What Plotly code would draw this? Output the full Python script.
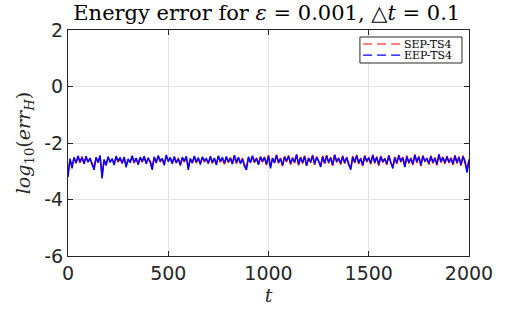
import plotly.graph_objects as go

t = list(range(0, 2001, 10))

eep_ts4 = [
    -3.20, -2.55, -2.90, -2.50, -2.72, -2.45, -2.66, -2.52, -2.74, -2.47,
    -2.68, -2.53, -2.76, -2.95, -2.50, -2.70, -2.44, -3.25, -2.58, -2.80,
    -2.48, -2.69, -2.55, -2.78, -2.46, -2.64, -2.51, -2.73, -2.49, -2.86,
    -2.56, -2.70, -2.45, -2.67, -2.53, -2.77, -2.50, -2.65, -2.47, -2.74,
    -2.52, -2.68, -2.95, -2.49, -2.71, -2.44, -2.63, -2.55, -2.79, -2.42,
    -2.66, -2.51, -2.74, -2.48, -2.69, -2.56, -2.80, -2.50, -2.64, -2.47,
    -2.95, -2.54, -2.72, -2.46, -2.67, -2.52, -2.76, -2.49, -2.62, -2.55,
    -2.73, -2.47, -2.68, -2.53, -2.78, -2.45, -2.65, -2.51, -2.71, -2.48,
    -2.66, -2.54, -2.75, -2.43, -2.69, -2.50, -2.73, -2.57, -2.82, -2.95,
    -2.49, -2.70, -2.45, -2.66, -2.55, -2.77, -2.48, -2.64, -2.52, -2.74,
    -2.46, -2.90, -2.53, -2.71, -2.44, -2.68, -2.56, -2.79, -2.50, -2.63,
    -2.47, -2.72, -2.54, -2.67, -2.41, -2.75, -2.52, -2.69, -2.48, -2.81,
    -2.55, -2.66, -2.45, -2.73, -2.51, -2.64, -2.85, -2.49, -2.70, -2.46,
    -2.68, -2.53, -2.77, -2.42, -2.65, -2.55, -2.72, -2.48, -2.69, -2.52,
    -2.74, -2.95, -2.50, -2.67, -2.45, -2.70, -2.56, -2.78, -2.47, -2.63,
    -2.54, -2.71, -2.44, -2.68, -2.51, -2.76, -2.49, -2.65, -2.57, -2.73,
    -2.46, -2.67, -2.90, -2.52, -2.70, -2.45, -2.64, -2.53, -2.85, -2.48,
    -2.69, -2.55, -2.74, -2.43, -2.66, -2.50, -2.78, -2.47, -2.63, -2.56,
    -2.72, -2.48, -2.68, -2.54, -2.75, -2.41, -2.65, -2.52, -2.70, -2.49,
    -2.67, -2.55, -2.73, -2.46, -2.69, -2.51, -2.77, -2.48, -2.64, -3.05,
    -2.60,
]

sep_ts4 = [
    -3.10, -2.60, -2.80, -2.55, -2.68, -2.50, -2.70, -2.48, -2.69, -2.52,
    -2.64, -2.57, -2.72, -2.85, -2.54, -2.66, -2.49, -3.10, -2.62, -2.74,
    -2.52, -2.65, -2.59, -2.72, -2.50, -2.68, -2.55, -2.70, -2.53, -2.78,
    -2.60, -2.66, -2.49, -2.71, -2.56, -2.72, -2.53, -2.68, -2.50, -2.70,
    -2.55, -2.64, -2.85, -2.52, -2.67, -2.48, -2.66, -2.58, -2.74, -2.46,
    -2.62, -2.55, -2.70, -2.51, -2.72, -2.53, -2.75, -2.54, -2.67, -2.50,
    -2.85, -2.57, -2.69, -2.50, -2.71, -2.55, -2.72, -2.52, -2.66, -2.58,
    -2.70, -2.50, -2.72, -2.56, -2.74, -2.48, -2.68, -2.54, -2.75, -2.51,
    -2.70, -2.51, -2.72, -2.46, -2.73, -2.53, -2.70, -2.54, -2.77, -2.85,
    -2.53, -2.66, -2.48, -2.70, -2.52, -2.73, -2.51, -2.68, -2.49, -2.78,
    -2.43, -2.82, -2.56, -2.68, -2.41, -2.72, -2.53, -2.82, -2.47, -2.67,
    -2.44, -2.76, -2.51, -2.71, -2.40, -2.79, -2.49, -2.73, -2.45, -2.78,
    -2.52, -2.70, -2.42, -2.77, -2.48, -2.68, -2.80, -2.46, -2.74, -2.43,
    -2.72, -2.50, -2.81, -2.41, -2.69, -2.52, -2.76, -2.45, -2.73, -2.49,
    -2.78, -2.88, -2.47, -2.71, -2.42, -2.74, -2.53, -2.82, -2.44, -2.67,
    -2.51, -2.75, -2.41, -2.72, -2.48, -2.80, -2.46, -2.69, -2.54, -2.77,
    -2.43, -2.71, -2.84, -2.49, -2.74, -2.42, -2.68, -2.50, -2.80, -2.45,
    -2.73, -2.52, -2.78, -2.40, -2.70, -2.47, -2.82, -2.44, -2.67, -2.53,
    -2.76, -2.45, -2.72, -2.51, -2.79, -2.40, -2.69, -2.49, -2.74, -2.46,
    -2.71, -2.52, -2.77, -2.43, -2.73, -2.48, -2.80, -2.45, -2.68, -2.95,
    -2.58,
]

series_names = ["SEP-TS4", "EEP-TS4"]
series_colors = ["#ff0000", "#0000ff"]

x_ticks = [0, 500, 1000, 1500, 2000]
y_ticks = [-6, -4, -2, 0, 2]

serif = "DejaVu Serif, Liberation Serif, serif"
sans = "DejaVu Sans, Arial, sans-serif"
axis_color = "#262626"

fig = go.Figure()
for name, ys, col in zip(series_names, [sep_ts4, eep_ts4], series_colors):
    fig.add_trace(go.Scatter(
        x=t, y=ys, mode="lines", name=name, showlegend=False,
        line=dict(color=col, width=1.5),
    ))

axis_common = dict(
    showline=True, linecolor=axis_color, linewidth=1, mirror="ticks",
    ticks="inside", ticklen=5, tickcolor=axis_color,
    showgrid=True, gridcolor="#e3e3e3", gridwidth=1,
    zeroline=False, automargin=False,
    tickfont=dict(family=sans, size=19, color=axis_color),
)

fig.update_xaxes(
    range=[0, 2000], tickvals=x_ticks,
    title=dict(text="<i>t</i>", font=dict(family=serif, size=19, color=axis_color), standoff=2),
    **axis_common,
)
fig.update_yaxes(
    range=[-6, 2], tickvals=y_ticks, ticktext=[str(v) for v in y_ticks],
    title=dict(text="<i>log</i><sub>10</sub>(<i>err<sub>H</sub></i>)",
               font=dict(family=serif, size=19, color=axis_color), standoff=8),
    **axis_common,
)

# legend box drawn in paper coordinates (matches MATLAB legend placement)
lx0, lx1, ly0, ly1 = 0.728, 0.9825, 0.854, 0.969
shapes = [dict(type="rect", xref="paper", yref="paper", x0=lx0, x1=lx1, y0=ly0, y1=ly1,
               line=dict(color=axis_color, width=1), fillcolor="white", layer="above")]
annotations = []
for i, (name, col) in enumerate(zip(series_names, series_colors)):
    yy = 0.938 - i * 0.049
    shapes.append(dict(type="line", xref="paper", yref="paper", x0=0.736, x1=0.831, y0=yy, y1=yy,
                       line=dict(color=col, width=1.2, dash="9px,5px"), layer="above"))
    annotations.append(dict(text=name, xref="paper", yref="paper", x=0.836, y=yy,
                            xanchor="left", yanchor="middle", showarrow=False,
                            height=10, borderpad=0,
                            font=dict(family=serif, size=11, color="black")))

fig.update_layout(
    width=518, height=311,
    margin=dict(l=68, r=49, t=30, b=55),
    paper_bgcolor="white", plot_bgcolor="white",
    title=dict(
        text="Energy error for <i>ε</i> = 0.001, △<i>t</i> = 0.1",
        font=dict(family=serif, size=21, color="black"),
        x=0.515, xanchor="center", y=0.958, yanchor="middle", automargin=False,
    ),
    showlegend=False,
    hovermode=False,
    shapes=shapes,
    annotations=annotations,
)

fig.write_html("out.html", config={"displayModeBar": False},
               post_script="document.body.style.margin='0';")
